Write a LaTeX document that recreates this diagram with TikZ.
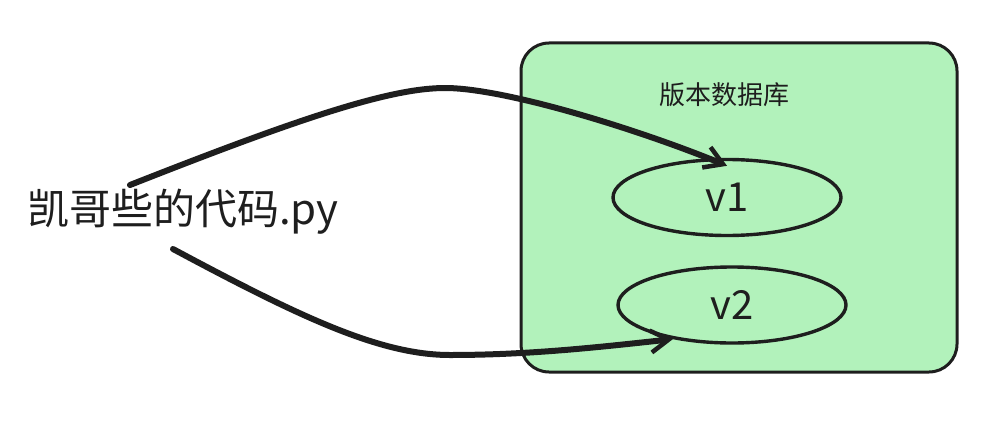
\documentclass[tikz,border=0pt]{standalone}
\usepackage{fontspec}
\setmainfont{Noto Sans CJK SC}
\usetikzlibrary{arrows.meta,calc,shapes.geometric}
\definecolor{ink}{HTML}{1E1E1E}
\definecolor{dbgreen}{HTML}{B2F2BB}
\begin{document}
\begin{tikzpicture}[x=1pt,y=-1pt,
  dbbox/.style={draw=ink,fill=dbgreen,line width=3pt,rounded corners=28pt,
    minimum width=436pt,minimum height=329pt,inner sep=0pt},
  verel/.style={ellipse,draw=ink,line width=3.4pt,minimum width=228pt,
    minimum height=76pt,inner sep=0pt,font=\fontsize{40}{48}\selectfont,text=ink},
  titletxt/.style={font=\fontsize{26}{32}\selectfont,text=ink,inner sep=0pt},
  srctxt/.style={font=\fontsize{42}{50}\selectfont,text=ink,inner sep=0pt},
  conn/.style={draw=ink,line width=6pt,line cap=round,
    -{Straight Barb[length=18pt,width=22pt,line width=4.5pt]}}]
\useasboundingbox (0,0) rectangle (984,428);
\node[dbbox] (db) at (739,207.5) {};
\node[titletxt] (title) at (724,95) {版本数据库};
\node[verel] (v1) at (727,197.5) {v1};
\node[verel] (v2) at (732,305) {v2};
\node[srctxt,anchor=base] (src) at (183,224) {凯哥些的代码.py};
\coordinate (s1) at (130,185);
\coordinate (s2) at (173,249);
\draw[conn] (s1) .. controls (300,118) and (390,88) .. (445,88)
  .. controls (505,88) and (640,130) .. ($(v1.north)+(0,8)$);
\draw[conn] (s2) .. controls (300,317) and (380,355) .. (450,355)
  .. controls (530,355) and (600,347) .. (v2.210);
\end{tikzpicture}
\end{document}
